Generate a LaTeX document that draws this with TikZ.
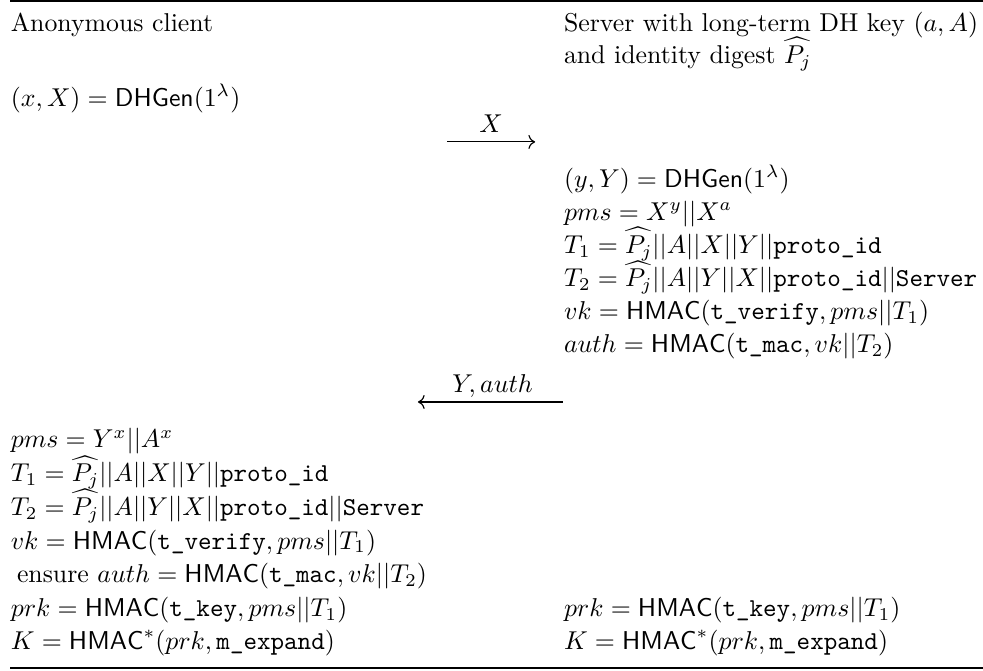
\documentclass[tikz,border=0pt]{standalone}
\usepackage{amsmath}
\usepackage{fontspec}
\usetikzlibrary{arrows.meta}
\newcommand{\Pjh}{\widehat{P_j}}
\newcommand{\HM}{\mathsf{HMAC}}
\tikzset{
  txt/.style={anchor=base west, inner sep=0pt, outer sep=0pt},
  lbl/.style={anchor=base, inner sep=0pt, outer sep=0pt},
  msg/.style={line width=0.45pt, draw=black},
  brule/.style={line width=0.8pt, draw=black}
}
\begin{document}
\begin{tikzpicture}[x=1pt,y=-1pt]
\useasboundingbox (0,0) rectangle (381,259.7);
% rules
\coordinate (tr1) at (4,0.4);
\coordinate (tr2) at (381,0.4);
\coordinate (br1) at (4,258.9);
\coordinate (br2) at (381,258.9);
\draw[brule] (tr1) -- (tr2);
\draw[brule] (br1) -- (br2);
% headers
\node[txt] (cl) at (4.2,12.4) {Anonymous client};
\node[txt] (sv1) at (218.6,12.4) {Server with long-term DH key $(a,A)$};
\node[txt] (sv2) at (218.6,24.6) {and identity digest $\Pjh$};
% client step 1
\node[txt] (c1) at (4.2,41.1) {$(x,X)=\mathsf{DHGen}(1^\lambda)$};
% message 1
\coordinate (m1s) at (173.3,55.0);
\coordinate (m1e) at (207.4,55.0);
\draw[msg,-{Computer Modern Rightarrow}] (m1s) -- (m1e);
\node[lbl] (m1l) at (190.3,51.5) {$X$};
% server computations
\node[txt] (s1) at (218.6,72.5) {$(y,Y)=\mathsf{DHGen}(1^\lambda)$};
\node[txt] (s2) at (218.6,85.3) {$pms=X^y||X^a$};
\node[txt] (s3) at (218.6,98.2) {$T_1=\Pjh||A||X||Y||\texttt{proto\_id}$};
\node[txt] (s4) at (218.6,111.1) {$T_2=\Pjh||A||Y||X||\texttt{proto\_id}||\texttt{Server}$};
\node[txt] (s5) at (218.6,124.0) {$vk=\HM(\texttt{t\_verify},pms||T_1)$};
\node[txt] (s6) at (218.6,136.8) {$auth=\HM(\texttt{t\_mac},vk||T_2)$};
% message 2
\coordinate (m2s) at (218.2,155.8);
\coordinate (m2e) at (162.0,155.8);
\draw[msg,-{Computer Modern Rightarrow}] (m2s) -- (m2e);
\node[lbl] (m2l) at (190.9,152.3) {$Y,auth$};
% client computations
\node[txt] (c2) at (4.2,173.6) {$pms=Y^x||A^x$};
\node[txt] (c3) at (4.2,186.7) {$T_1=\Pjh||A||X||Y||\texttt{proto\_id}$};
\node[txt] (c4) at (4.2,199.7) {$T_2=\Pjh||A||Y||X||\texttt{proto\_id}||\texttt{Server}$};
\node[txt] (c5) at (4.2,212.8) {$vk=\HM(\texttt{t\_verify},pms||T_1)$};
\node[txt] (c6) at (6.6,225.9) {ensure $auth=\HM(\texttt{t\_mac},vk||T_2)$};
\node[txt] (c7) at (4.2,238.9) {$prk=\HM(\texttt{t\_key},pms||T_1)$};
\node[txt] (c8) at (4.2,251.9) {$K=\HM^*(prk,\texttt{m\_expand})$};
% server final
\node[txt] (s7) at (218.6,238.9) {$prk=\HM(\texttt{t\_key},pms||T_1)$};
\node[txt] (s8) at (218.6,251.9) {$K=\HM^*(prk,\texttt{m\_expand})$};
\end{tikzpicture}
\end{document}
